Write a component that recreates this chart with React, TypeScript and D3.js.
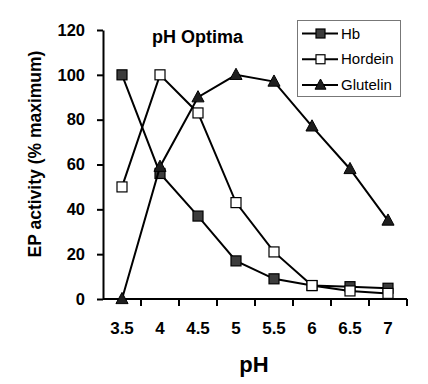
import React, { useRef, useEffect } from "react";
import * as d3 from "d3";

const phLabels = ["3.5", "4", "4.5", "5", "5.5", "6", "6.5", "7"];
const hbValues = [100, 56, 37, 17, 9, 6, 5.5, 4.8];
const hordeinValues = [50, 100, 83, 43, 21, 6, 3.6, 2.5];
const glutelinValues = [0, 59, 90, 100, 97, 77, 58, 35];
const yTickValues = [0, 20, 40, 60, 80, 100, 120];
const seriesNames = ["Hb", "Hordein", "Glutelin"];

const FONT = "Arial, 'Liberation Sans', Helvetica, sans-serif";

const App = () => {
  const width = 428;
  const height = 384;
  const svgRef = useRef<SVGSVGElement>(null);

  useEffect(() => {
    if (!svgRef.current) return;
    const svg = d3.select(svgRef.current);
    svg.selectAll("*").remove();

    const x = d3.scaleBand<string>(phLabels, [103, 407]);
    const y = d3.scaleLinear([0, 120], [299, 30]);
    const cx = (label: string) => (x(label) as number) + x.bandwidth() / 2;

    // y axis
    const yAxis = d3
      .axisLeft(y)
      .tickValues(yTickValues)
      .tickSize(6)
      .tickSizeOuter(0)
      .tickPadding(12);
    const yG = svg.append("g").attr("transform", "translate(103,0)").call(yAxis);
    yG.select(".domain").attr("stroke", "#000").attr("stroke-width", 2);
    yG.selectAll(".tick line").attr("stroke", "#000").attr("stroke-width", 2);
    yG.selectAll(".tick text")
      .attr("font-family", FONT)
      .attr("font-size", 16.5)
      .attr("font-weight", "bold")
      .attr("fill", "#000");

    // x axis: ticks at band boundaries, labels at centers
    const xG = svg.append("g");
    xG.append("line")
      .attr("x1", 103)
      .attr("x2", 407)
      .attr("y1", y(0))
      .attr("y2", y(0))
      .attr("stroke", "#000")
      .attr("stroke-width", 2);
    const boundaries = phLabels.map((d) => x(d) as number).concat([x.range()[1]]);
    xG.selectAll("line.tk")
      .data(boundaries.slice(1))
      .join("line")
      .attr("class", "tk")
      .attr("x1", (d) => d)
      .attr("x2", (d) => d)
      .attr("y1", y(0))
      .attr("y2", y(0) + 7)
      .attr("stroke", "#000")
      .attr("stroke-width", 2);
    xG.selectAll("text")
      .data(phLabels)
      .join("text")
      .attr("x", (d) => cx(d))
      .attr("y", 334)
      .attr("text-anchor", "middle")
      .attr("font-family", FONT)
      .attr("font-size", 17)
      .attr("font-weight", "bold")
      .text((d) => d);

    // axis titles
    svg.append("text")
      .attr("x", 254)
      .attr("y", 372)
      .attr("text-anchor", "middle")
      .attr("font-family", FONT)
      .attr("font-size", 22)
      .attr("font-weight", "bold")
      .text("pH");
    svg.append("text")
      .attr("transform", "translate(41,154) rotate(-90)")
      .attr("text-anchor", "middle")
      .attr("font-family", FONT)
      .attr("font-size", 17.5)
      .attr("font-weight", "bold")
      .text("EP activity (% maximum)");
    svg.append("text")
      .attr("x", 152)
      .attr("y", 43)
      .attr("font-family", FONT)
      .attr("font-size", 18)
      .attr("font-weight", "bold")
      .text("pH Optima");

    const line = d3
      .line<number>()
      .x((_, i) => cx(phLabels[i]))
      .y((d) => y(d));

    const drawSquare = (g: any, px: number, py: number, s: number, fill: string) =>
      g.append("rect")
        .attr("x", px - s / 2)
        .attr("y", py - s / 2)
        .attr("width", s)
        .attr("height", s)
        .attr("fill", fill)
        .attr("stroke", "#000")
        .attr("stroke-width", 1.2);
    const drawTriangle = (g: any, px: number, py: number, s: number) =>
      g.append("path")
        .attr(
          "d",
          `M${px},${py - s * 0.6}L${px - s * 0.55},${py + s * 0.42}L${px + s * 0.55},${py + s * 0.42}Z`
        )
        .attr("fill", "#1e1e1e")
        .attr("stroke", "#000")
        .attr("stroke-width", 1);

    const series = [
      { name: "Hb", values: hbValues, marker: "sq", fill: "#3c3c3c" },
      { name: "Hordein", values: hordeinValues, marker: "sq", fill: "#fff" },
      { name: "Glutelin", values: glutelinValues, marker: "tri", fill: "#1e1e1e" },
    ];

    series.forEach((s) => {
      const g = svg.append("g");
      g.append("path")
        .attr("d", line(s.values))
        .attr("fill", "none")
        .attr("stroke", "#000")
        .attr("stroke-width", 2);
      s.values.forEach((v, i) => {
        const px = cx(phLabels[i]);
        const py = y(v);
        if (s.marker === "sq") drawSquare(g, px, py, 10, s.fill);
        else drawTriangle(g, px, py, 11);
      });
    });

    // legend
    const lg = svg.append("g");
    lg.append("rect")
      .attr("x", 297.5)
      .attr("y", 20.5)
      .attr("width", 103)
      .attr("height", 76)
      .attr("fill", "#fff")
      .attr("stroke", "#777")
      .attr("stroke-width", 1);
    const rowY = d3.scalePoint(seriesNames, [33.5, 85]);
    series.forEach((s) => {
      const ry = rowY(s.name) as number;
      lg.append("line")
        .attr("x1", 302)
        .attr("x2", 338)
        .attr("y1", ry)
        .attr("y2", ry)
        .attr("stroke", "#000")
        .attr("stroke-width", 2);
      if (s.marker === "sq") drawSquare(lg, 320.5, ry, 9, s.fill);
      else drawTriangle(lg, 320.5, ry, 10);
      lg.append("text")
        .attr("x", 341)
        .attr("y", ry + 5)
        .attr("font-family", FONT)
        .attr("font-size", 15)
        .attr("fill", "#000")
        .text(s.name);
    });
  }, []);

  return (
    <svg
      ref={svgRef}
      width={width}
      height={height}
      style={{ position: "absolute", left: 0, top: 0, background: "#fff" }}
    />
  );
};

export default App;
